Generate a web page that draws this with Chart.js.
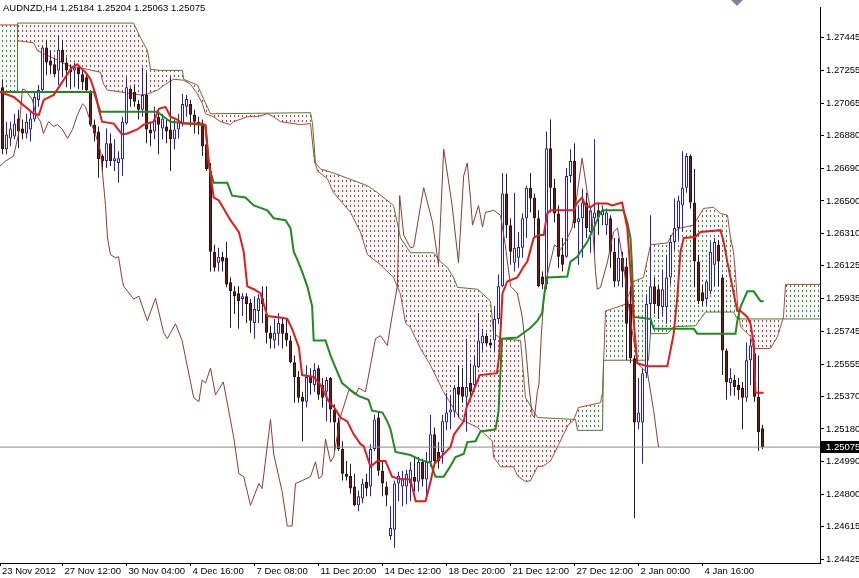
<!DOCTYPE html>
<html><head><meta charset="utf-8">
<script src="https://cdn.jsdelivr.net/npm/chart.js@4.4.1/dist/chart.umd.min.js"></script>
<style>html,body{margin:0;padding:0;background:#fff;overflow:hidden}</style>
</head><body>
<canvas id="c" width="859" height="578"></canvas>
<script>
const symbol = 'AUDNZD,H4';
// H4 candles, bar index 0..190
const open = [
1.27159,1.26800,1.26862,1.26874,1.26977,1.26920,1.26891,1.26914,1.26971,1.27085,
1.27142,1.27388,1.27313,1.27291,1.27256,1.27376,1.27302,1.27262,1.27256,1.27273,
1.27233,1.27216,1.27131,1.26942,1.26902,1.26760,1.26731,1.26834,1.26731,1.26720,
1.26742,1.26948,1.27148,1.27131,1.27062,1.27028,1.27114,1.26914,1.26902,1.26988,
1.26920,1.26931,1.26914,1.26857,1.26914,1.26948,1.27045,1.27062,1.26999,1.26959,
1.26942,1.26828,1.26674,1.26206,1.26143,1.26177,1.26171,1.26029,1.25977,1.25966,
1.25932,1.25949,1.25909,1.25794,1.25863,1.25937,1.25846,1.25737,1.25692,1.25732,
1.25789,1.25737,1.25692,1.25566,1.25481,1.25366,1.25338,1.25481,1.25435,1.25532,
1.25435,1.25395,1.25475,1.25292,1.25218,1.25064,1.24921,1.24909,1.24847,1.24738,
1.24778,1.24875,1.24847,1.25064,1.25246,1.24938,1.24847,1.24561,1.24596,1.24864,
1.24847,1.24847,1.24864,1.24904,1.24875,1.24989,1.24887,1.24989,1.25149,1.25047,
1.25047,1.25218,1.25275,1.25281,1.25423,1.25423,1.25366,1.25446,1.25435,1.25538,
1.25675,1.25720,1.25680,1.25692,1.25817,1.26006,1.26543,1.26360,1.26143,1.26171,
1.26229,1.26400,1.26577,1.26520,1.26400,1.26063,1.26017,1.26805,1.26577,1.26428,
1.26189,1.26177,1.26645,1.26731,1.26377,1.26400,1.26491,1.26320,1.26400,1.26446,
1.26417,1.26360,1.26400,1.26206,1.26034,1.26171,1.26120,1.25903,1.25589,1.25218,
1.25218,1.25503,1.25903,1.26006,1.25989,1.25886,1.25886,1.26057,1.26263,1.26343,
1.26474,1.26577,1.26760,1.26491,1.26149,1.25971,1.25932,1.25977,1.26131,1.26246,
1.26057,1.25635,1.25446,1.25463,1.25435,1.25417,1.25361,1.25578,1.25618,1.25366,
1.25184];
const high = [
1.27205,1.26959,1.26959,1.27005,1.27028,1.26971,1.27005,1.27028,1.27131,1.27171,
1.27399,1.27433,1.27370,1.27331,1.27456,1.27433,1.27331,1.27291,1.27302,1.27285,
1.27256,1.27233,1.27142,1.26971,1.26931,1.26771,1.26920,1.26891,1.26857,1.26788,
1.26988,1.27216,1.27159,1.27176,1.27085,1.27273,1.27245,1.26959,1.27045,1.27005,
1.27005,1.26971,1.27216,1.26971,1.27005,1.27119,1.27114,1.27085,1.27028,1.26988,
1.26971,1.26857,1.26720,1.26246,1.26229,1.26206,1.26263,1.26057,1.26006,1.26006,
1.25966,1.25966,1.25932,1.25949,1.25960,1.26006,1.26006,1.25777,1.25817,1.25852,
1.25823,1.25817,1.25720,1.25606,1.25515,1.25395,1.25549,1.25532,1.25560,1.25549,
1.25475,1.25481,1.25481,1.25321,1.25246,1.25109,1.24995,1.24978,1.24921,1.24824,
1.24892,1.24921,1.25092,1.25263,1.25281,1.24995,1.24875,1.24732,1.24881,1.24932,
1.24938,1.24944,1.24989,1.25018,1.25018,1.25007,1.25047,1.25263,1.25189,1.25104,
1.25263,1.25389,1.25378,1.25435,1.25549,1.25532,1.25703,1.25560,1.25606,1.25852,
1.25760,1.25737,1.25703,1.25892,1.26074,1.26662,1.26657,1.26400,1.26548,1.26320,
1.26428,1.26588,1.26662,1.26543,1.26446,1.26091,1.26902,1.26971,1.26628,1.26474,
1.26286,1.26691,1.26800,1.26834,1.26474,1.26571,1.26548,1.26457,1.26857,1.26491,
1.26474,1.26457,1.26417,1.26286,1.26286,1.26206,1.26171,1.26006,1.25606,1.25475,
1.25532,1.25960,1.26417,1.26057,1.26017,1.26103,1.26189,1.26303,1.26514,1.26531,
1.26788,1.26777,1.26771,1.26685,1.26189,1.26017,1.26046,1.26263,1.26286,1.26274,
1.26074,1.25646,1.25532,1.25492,1.25475,1.25452,1.25680,1.25703,1.25646,1.25606,
1.25204];
const low = [
1.26771,1.26771,1.26817,1.26857,1.26805,1.26857,1.26862,1.26845,1.26959,1.27045,
1.27131,1.27228,1.27233,1.27216,1.27171,1.27216,1.27159,1.27148,1.27159,1.27148,
1.27142,1.27131,1.26931,1.26845,1.26634,1.26662,1.26691,1.26702,1.26674,1.26605,
1.26645,1.26942,1.27045,1.27045,1.26971,1.26988,1.26834,1.26817,1.26857,1.26771,
1.26857,1.26834,1.26674,1.26800,1.26862,1.26931,1.26988,1.26931,1.26891,1.26885,
1.26760,1.26674,1.26091,1.26091,1.26091,1.26091,1.26000,1.25766,1.25846,1.25760,
1.25834,1.25794,1.25737,1.25703,1.25794,1.25794,1.25675,1.25646,1.25646,1.25663,
1.25646,1.25657,1.25560,1.25332,1.25332,1.25109,1.25304,1.25378,1.25395,1.25349,
1.25304,1.25224,1.25218,1.25052,1.25052,1.24881,1.24881,1.24807,1.24732,1.24704,
1.24750,1.24790,1.24790,1.25052,1.24909,1.24790,1.24732,1.24538,1.24493,1.24761,
1.24732,1.24744,1.24761,1.24818,1.24818,1.24847,1.24790,1.24961,1.24961,1.24949,
1.24978,1.25172,1.25178,1.25246,1.25246,1.25332,1.25166,1.25372,1.25417,1.25532,
1.25623,1.25663,1.25646,1.25623,1.25789,1.26000,1.26286,1.26131,1.26091,1.26114,
1.26171,1.26286,1.26434,1.26286,1.26000,1.25989,1.25989,1.26434,1.26377,1.26114,
1.26091,1.26171,1.26605,1.26343,1.26131,1.26171,1.26286,1.26200,1.26189,1.26303,
1.26360,1.26303,1.26114,1.26000,1.26006,1.26000,1.25578,1.25560,1.24664,1.25178,
1.24978,1.25475,1.25732,1.25846,1.25817,1.25834,1.25789,1.26017,1.26217,1.26274,
1.26320,1.26548,1.26457,1.26000,1.25903,1.25892,1.25892,1.25960,1.26006,1.26006,
1.25492,1.25349,1.25372,1.25372,1.25349,1.25178,1.25338,1.25435,1.25338,1.25052,
1.25063];
const close = [
1.26800,1.26885,1.26920,1.26948,1.26902,1.26891,1.26959,1.26977,1.27102,1.27142,
1.27388,1.27302,1.27285,1.27233,1.27376,1.27302,1.27256,1.27245,1.27273,1.27233,
1.27188,1.27142,1.26942,1.26891,1.26742,1.26731,1.26834,1.26731,1.26748,1.26748,
1.26959,1.27159,1.27091,1.27074,1.27028,1.27114,1.26914,1.26891,1.26971,1.26942,
1.26977,1.26902,1.26857,1.26914,1.26959,1.27062,1.27091,1.26999,1.26959,1.26942,
1.26817,1.26685,1.26206,1.26114,1.26177,1.26149,1.26017,1.25977,1.25949,1.25920,
1.25949,1.25903,1.25806,1.25874,1.25937,1.25903,1.25737,1.25703,1.25737,1.25794,
1.25732,1.25692,1.25566,1.25481,1.25361,1.25338,1.25481,1.25446,1.25521,1.25378,
1.25361,1.25463,1.25292,1.25218,1.25064,1.24921,1.24904,1.24835,1.24738,1.24790,
1.24864,1.24835,1.25064,1.25235,1.24938,1.24864,1.24795,1.24607,1.24864,1.24909,
1.24887,1.24921,1.24944,1.24875,1.24989,1.24887,1.24989,1.25149,1.24995,1.24995,
1.25224,1.25275,1.25292,1.25417,1.25378,1.25366,1.25423,1.25395,1.25549,1.25692,
1.25720,1.25675,1.25663,1.25817,1.26006,1.26543,1.26360,1.26206,1.26229,1.26234,
1.26400,1.26577,1.26514,1.26400,1.26006,1.26017,1.26805,1.26577,1.26428,1.26177,
1.26131,1.26645,1.26731,1.26371,1.26400,1.26491,1.26343,1.26446,1.26434,1.26406,
1.26446,1.26434,1.26206,1.26034,1.26171,1.26091,1.25789,1.25589,1.25218,1.25275,
1.25503,1.25903,1.26006,1.25903,1.25892,1.25989,1.26057,1.26263,1.26343,1.26503,
1.26577,1.26760,1.26491,1.26149,1.25920,1.25920,1.26034,1.26206,1.26263,1.26149,
1.25635,1.25452,1.25475,1.25423,1.25406,1.25361,1.25578,1.25663,1.25366,1.25161,
1.25075];

// Ichimoku lines as [bar index, price] vertices
const tenkan = [[-0.625,1.27131],[2.8,1.27102],[7.8,1.27005],[9.1,1.26999],[10.3,1.27085],[12.8,1.27114],[14.1,1.27159],[16.2,1.27233],[17.4,1.27273],[18.7,1.27291],[19.9,1.27262],[20.75,1.27245],[22,1.27205],[23.25,1.27119],[24.1,1.27028],[24.9,1.26959],[27.8,1.26948],[29.9,1.26885],[31.2,1.26891],[33.7,1.26914],[35.3,1.26942],[37.8,1.26959],[39.1,1.27034],[40.75,1.27045],[42,1.26988],[43.7,1.26971],[44.9,1.26948],[49.9,1.26948],[50.75,1.26931],[51.6,1.26720],[52.8,1.26520],[54.1,1.26503],[57,1.26389],[59.1,1.26320],[60.3,1.26206],[61.2,1.26006],[62.8,1.25989],[64.5,1.25966],[66.2,1.25834],[70.3,1.25823],[71.2,1.25817],[72.4,1.25760],[74.1,1.25652],[74.9,1.25492],[77.8,1.25481],[79.5,1.25435],[81.6,1.25338],[82.8,1.25309],[84.5,1.25246],[86.2,1.25224],[87.8,1.25149],[89.5,1.25092],[90.3,1.25081],[92,1.24961],[93.7,1.24995],[95.75,1.24995],[97.4,1.24904],[99,1.24892],[102,1.24887],[103.3,1.24761],[105.75,1.24761],[107,1.24875],[108,1.24978],[110.3,1.25035],[112,1.25075],[112.9,1.25149],[115.3,1.25224],[116,1.25304],[118.5,1.25446],[119.3,1.25492],[123.6,1.25503],[124.2,1.25606],[125,1.25966],[126.2,1.26034],[128.7,1.26057],[130.3,1.26120],[131.2,1.26149],[132.8,1.26286],[134,1.26303],[135.3,1.26303],[136.2,1.26428],[137,1.26446],[142.8,1.26446],[143.7,1.26491],[144.9,1.26520],[145.75,1.26474],[147,1.26463],[148.25,1.26485],[151.2,1.26485],[152.4,1.26474],[154.9,1.26491],[156.2,1.26343],[157,1.26091],[157.8,1.25806],[158.7,1.25560],[161.2,1.25543],[166.2,1.25543],[167,1.25635],[167.8,1.25732],[168.7,1.25943],[169.5,1.26206],[170.3,1.26286],[173.2,1.26291],[174.5,1.26320],[179.5,1.26331],[180.3,1.26263],[181.2,1.26149],[183.7,1.25863],[184.5,1.25863],[186.2,1.25829],[187,1.25789],[187.8,1.25675],[188.25,1.25389],[190.3,1.25389]];
const kijun = [[-0.625,1.27131],[22.8,1.27131],[24.5,1.27016],[38.7,1.27016],[40.3,1.26988],[42,1.26959],[49.5,1.26942],[50.75,1.26942],[51.6,1.26702],[52.8,1.26605],[56.2,1.26605],[57.4,1.26531],[60.75,1.26520],[62.8,1.26474],[66.2,1.26446],[67.8,1.26400],[70.75,1.26389],[72,1.26343],[72.8,1.26206],[73.7,1.26160],[74.9,1.26091],[76.2,1.26006],[77.4,1.25892],[77.8,1.25692],[80.75,1.25692],[82,1.25606],[82.8,1.25560],[84.9,1.25446],[87,1.25406],[89,1.25372],[91.5,1.25349],[92.4,1.25286],[95,1.25275],[96.2,1.25224],[97,1.25178],[98.25,1.25047],[102,1.25029],[104.5,1.25001],[107,1.24984],[108.25,1.24904],[110.3,1.24904],[112,1.24966],[113.25,1.25018],[115.3,1.25035],[116.2,1.25104],[118.25,1.25109],[119.5,1.25166],[123.25,1.25178],[124,1.25281],[124.9,1.25703],[128.7,1.25709],[130.3,1.25737],[132,1.25766],[133.7,1.25806],[134.9,1.25852],[135.3,1.25932],[135.75,1.26006],[136.2,1.26057],[141.2,1.26063],[142,1.26149],[143.7,1.26177],[144.5,1.26206],[146.2,1.26263],[147.8,1.26343],[149.5,1.26434],[150.3,1.26446],[155.2,1.26446],[156.2,1.26377],[157,1.26286],[157.4,1.26114],[157.8,1.25829],[162,1.25817],[162.8,1.25760],[172.8,1.25760],[173.7,1.25732],[183.25,1.25732],[183.7,1.25806],[184.5,1.25886],[186.2,1.25977],[187.8,1.25977],[189.5,1.25920],[190.3,1.25920]];
const chikou = [[-0.625,1.26702],[0.75,1.26731],[2.75,1.26760],[4,1.26885],[5,1.27148],[5.75,1.27142],[7.5,1.27085],[8.25,1.27005],[9.5,1.26959],[10.25,1.26891],[11.5,1.26959],[12.75,1.26931],[13.75,1.26942],[15,1.26914],[16.25,1.26862],[17.5,1.26914],[18.75,1.26999],[20,1.27062],[20.75,1.27045],[22,1.26959],[23.25,1.26885],[24.5,1.26788],[25,1.26662],[25.75,1.26474],[26.25,1.26286],[27,1.26189],[28.25,1.26171],[29,1.26177],[30,1.26034],[30.3,1.26006],[32.8,1.25932],[34.1,1.25949],[36.2,1.25806],[38.25,1.25937],[40.3,1.25737],[41.2,1.25703],[43.25,1.25789],[44.9,1.25692],[47.8,1.25361],[49.1,1.25338],[49.9,1.25463],[50.75,1.25446],[52,1.25532],[53.25,1.25378],[55.2,1.25452],[57.8,1.25132],[59.1,1.24921],[60.3,1.24904],[62,1.24738],[64.1,1.24864],[64.9,1.24835],[67,1.25235],[67.8,1.25035],[69.9,1.24818],[71.2,1.24618],[72.4,1.24618],[73.25,1.24864],[74.9,1.24881],[77,1.24904],[78.25,1.24989],[79.1,1.24892],[79.9,1.24909],[80.75,1.25121],[82,1.24989],[82.8,1.25018],[84.5,1.25252],[86.6,1.25406],[88.25,1.25378],[89.1,1.25417],[90.75,1.25395],[92,1.25549],[93.25,1.25703],[94.5,1.25720],[96.2,1.25663],[97.4,1.25834],[98.7,1.26006],[99.3,1.26531],[100.3,1.26303],[102,1.26229],[102.8,1.26234],[105.3,1.26577],[107.5,1.26377],[109,1.26131],[110.3,1.26800],[111.2,1.26662],[112.4,1.26474],[114,1.26143],[115.3,1.26645],[116.2,1.26720],[117,1.26514],[117.5,1.26360],[119,1.26474],[120,1.26349],[120.75,1.26434],[122.8,1.26446],[124.5,1.26417],[125.7,1.26246],[127,1.26006],[128.7,1.25966],[129.9,1.25834],[130.75,1.25663],[131.6,1.25435],[132.4,1.25263],[133,1.25246],[133.7,1.25395],[134.1,1.25435],[134.7,1.25720],[135.2,1.25892],[135.6,1.26006],[136.5,1.26103],[138,1.26246],[139.5,1.26217],[141,1.26274],[142.4,1.26343],[143.7,1.26548],[144.9,1.26748],[146.2,1.26548],[147.4,1.26400],[148.25,1.26091],[148.7,1.25989],[149.5,1.26000],[151.25,1.26149],[152.75,1.26320],[153.75,1.26343],[155.25,1.26131],[157,1.25806],[158.75,1.25560],[161.25,1.25503],[162.75,1.25292],[164,1.25075]];
const spanA = [[-0.625,1.27519],[3.72,1.27519],[3.75,1.27428],[7.75,1.27416],[8.75,1.27370],[14,1.27313],[16.25,1.27285],[21.25,1.27262],[24.5,1.27245],[25.25,1.27176],[26.25,1.27142],[29.5,1.27131],[34.5,1.27114],[36.25,1.27119],[38.75,1.27142],[40.75,1.27176],[42.75,1.27205],[45.25,1.27199],[47,1.27176],[48.75,1.27119],[50,1.27062],[50.75,1.27005],[52.75,1.26988],[54.5,1.26959],[57,1.26942],[57.75,1.26959],[61.25,1.26988],[63.75,1.26988],[66.25,1.27005],[67.75,1.26988],[69.5,1.26959],[74.5,1.26942],[77,1.26948],[78,1.26731],[78.75,1.26674],[81.25,1.26628],[82.75,1.26548],[87,1.26434],[89.5,1.26320],[91.25,1.26189],[94.5,1.26131],[97.75,1.26057],[99.5,1.25960],[100.75,1.25794],[102,1.25766],[104.5,1.25646],[107,1.25549],[110.25,1.25395],[114.5,1.25235],[118.75,1.25189],[122.5,1.25109],[122.75,1.25018],[124.5,1.24961],[127.75,1.24961],[128.75,1.24909],[130.75,1.24875],[132,1.24881],[133.75,1.24961],[135.25,1.24966],[137,1.24995],[138.75,1.25075],[140.25,1.25149],[141.5,1.25206],[142.75,1.25229],[144,1.25304],[149.5,1.25332],[150,1.25389],[150.75,1.25863],[153.75,1.25886],[155.75,1.25903],[157.75,1.26034],[160.25,1.26057],[162,1.26246],[166.25,1.26257],[167.75,1.26320],[169.5,1.26343],[172.75,1.26360],[175.25,1.26457],[177.75,1.26463],[179.5,1.26428],[181.25,1.26417],[182,1.26286],[182.75,1.26206],[183.25,1.26074],[183.75,1.25903],[184.5,1.25772],[187,1.25715],[187.75,1.25646],[192,1.25646],[193.75,1.25715],[194.5,1.25772],[195.25,1.25829],[195.75,1.26017],[204.375,1.26017]];
const spanB = [[-0.625,1.27131],[3.72,1.27131],[3.75,1.27530],[32.75,1.27530],[34.5,1.27445],[36.25,1.27370],[37,1.27262],[39.5,1.27256],[45,1.27256],[45.25,1.27205],[48.75,1.27171],[50.25,1.27091],[52,1.27005],[77,1.27011],[77.5,1.26948],[78.25,1.26720],[79.5,1.26685],[82.75,1.26662],[91.25,1.26588],[93.75,1.26548],[97.75,1.26474],[99.5,1.26286],[102,1.26200],[107.75,1.26200],[109.5,1.26149],[111.25,1.26114],[112.75,1.26057],[113.75,1.26000],[118.75,1.25989],[122,1.25920],[122.75,1.25737],[124.5,1.25703],[129.5,1.25692],[130.75,1.25361],[133.75,1.25246],[143.25,1.25235],[143.75,1.25172],[150,1.25172],[150.25,1.25578],[161.5,1.25578],[162,1.25732],[166.25,1.25732],[167.75,1.25772],[173.25,1.25777],[175.75,1.25857],[182.75,1.25857],[183.75,1.25817],[204.375,1.25817]];

const timeTickPos = [-0.625, 15, 31, 47, 63, 79, 95, 111, 127, 143, 159, 175];
const timeLabels = ['23 Nov 2012','27 Nov 12:00','30 Nov 04:00','4 Dec 16:00','7 Dec 08:00','11 Dec 20:00','14 Dec 12:00','18 Dec 20:00','21 Dec 12:00','27 Dec 12:00','2 Jan 00:00','4 Jan 16:00'];
const priceTicks = [1.27445,1.27255,1.27065,1.26880,1.26690,1.26500,1.26310,1.26125,1.25935,1.25745,1.25555,1.25370,1.25180,1.24990,1.24800,1.24615,1.24425];

const X_MIN = -0.625, X_MAX = 204.375, Y_MIN = 1.24404, Y_MAX = 1.27619;
const last = close.length - 1;
const lastClose = close[last];

function makeDots(color) {
  const c = document.createElement('canvas'); c.width = 4; c.height = 5;
  const g = c.getContext('2d'); g.fillStyle = color; g.fillRect(2, 0, 1, 2);
  return g.createPattern(c, 'repeat');
}
const greenDots = makeDots('#2c8a2c');
const redDots = makeDots('#d62a2a');
const pts = a => a.map(([x, y]) => ({x, y}));
const up = i => i === undefined || close[i] >= open[i];
const BULL = '#2222c4', BEAR_BODY = '#6b2020', BEAR_EDGE = '#3a0c0c', BEAR_WICK = '#1e1e1e';
const FONT = {family: 'Liberation Sans', size: 9.5};

const extras = {
  id: 'extras',
  afterDraw(chart) {
    const g = chart.ctx;
    g.save();
    g.font = '9.5px "Liberation Sans"';
    g.textAlign = 'left';
    g.fillStyle = '#000';
    g.textBaseline = 'alphabetic';
    g.fillText(symbol + ' ' + open[last].toFixed(5) + ' ' + high[last].toFixed(5) + ' ' + low[last].toFixed(5) + ' ' + close[last].toFixed(5), 3, 11);
    g.fillStyle = '#7d8794';
    g.beginPath(); g.moveTo(731, 0); g.lineTo(743, 0); g.lineTo(737, 6); g.closePath(); g.fill();
    const py = Math.round(chart.scales.y.getPixelForValue(lastClose));
    g.fillStyle = '#000';
    g.fillRect(821, py - 6, 38, 12);
    g.fillStyle = '#fff';
    g.textBaseline = 'middle';
    g.fillText(lastClose.toFixed(5), 826, py + 0.5);
    g.restore();
  }
};

new Chart(document.getElementById('c'), {
  type: 'bar',
  data: {
    datasets: [
      {type: 'line', label: 'Senkou Span A', data: pts(spanA), borderColor: '#b0443c', borderWidth: 1, pointRadius: 0, tension: 0,
       fill: {target: 1, above: greenDots, below: redDots}, order: 10},
      {type: 'line', label: 'Senkou Span B', data: pts(spanB), borderColor: '#4e7a2c', borderWidth: 1, pointRadius: 0, tension: 0, fill: false, order: 9},
      {type: 'bar', label: 'wick', data: open.map((_, i) => ({x: i, y: [low[i], high[i]]})),
       backgroundColor: c => up(c.dataIndex) ? BULL : BEAR_WICK, borderWidth: 0, barThickness: 1, grouped: false, inflateAmount: 0, order: 8},
      {type: 'bar', label: 'body', data: open.map((_, i) => ({x: i, y: [open[i], close[i]]})),
       backgroundColor: c => up(c.dataIndex) ? '#ffffff' : BEAR_BODY,
       borderColor: c => up(c.dataIndex) ? BULL : BEAR_EDGE,
       borderWidth: 1, borderSkipped: false, barThickness: 3, grouped: false, inflateAmount: 0, minBarLength: 1, order: 7},
      {type: 'line', label: 'bid', data: [{x: X_MIN, y: lastClose}, {x: X_MAX, y: lastClose}], borderColor: '#8c8c8c', borderWidth: 1, pointRadius: 0, order: 6},
      {type: 'line', label: 'Chikou Span', data: pts(chikou), borderColor: '#8e3b36', borderWidth: 1, pointRadius: 0, tension: 0, order: 5},
      {type: 'line', label: 'Kijun-sen', data: pts(kijun), borderColor: '#1f8a1f', borderWidth: 2, pointRadius: 0, tension: 0, order: 4},
      {type: 'line', label: 'Tenkan-sen', data: pts(tenkan), borderColor: '#e01c1c', borderWidth: 2, pointRadius: 0, tension: 0, order: 3}
    ]
  },
  options: {
    responsive: false,
    animation: false,
    devicePixelRatio: 1,
    events: [],
    layout: {padding: 0, autoPadding: false},
    plugins: {legend: {display: false}, tooltip: {enabled: false}},
    scales: {
      x: {
        type: 'linear', min: X_MIN, max: X_MAX, offset: false,
        grid: {display: true, drawOnChartArea: false, drawTicks: true, tickLength: 3, color: '#000', offset: false},
        border: {display: true, color: '#000', width: 1},
        ticks: {autoSkip: false, maxRotation: 0, minRotation: 0, align: 'start', labelOffset: 2, padding: 0, color: '#000', font: FONT,
                callback: (v, i) => timeLabels[i]},
        afterBuildTicks: s => { s.ticks = timeTickPos.map(v => ({value: v})); },
        afterFit: s => { s.height = 15; }
      },
      y: {
        type: 'linear', position: 'right', min: Y_MIN, max: Y_MAX,
        grid: {display: true, drawOnChartArea: false, drawTicks: true, tickLength: 4, color: '#000'},
        border: {display: true, color: '#000', width: 1},
        ticks: {padding: 2, color: '#000', font: FONT, callback: v => Number(v).toFixed(5)},
        afterBuildTicks: s => { s.ticks = priceTicks.map(v => ({value: v})); },
        afterFit: s => { s.width = 39; }
      }
    }
  },
  plugins: [extras]
});
</script>
</body></html>
